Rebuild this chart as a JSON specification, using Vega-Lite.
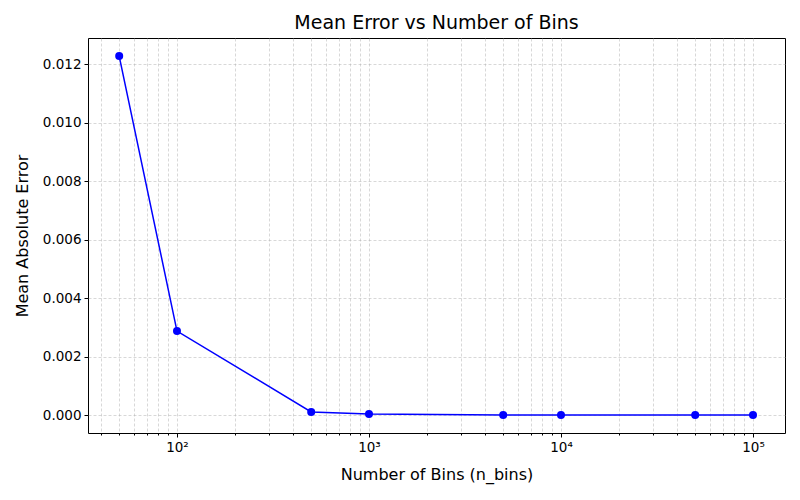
{
  "$schema": "https://vega.github.io/schema/vega-lite/v6.json",
  "width": 697,
  "height": 395,
  "autosize": {"type": "none"},
  "padding": {"left": 88, "top": 38, "right": 15, "bottom": 67},
  "background": "white",
  "config": {
    "font": "DejaVu Sans",
    "view": {"stroke": "black", "strokeWidth": 1},
    "axis": {
      "domain": false,
      "grid": true,
      "gridColor": "#b0b0b0",
      "gridDash": [3, 2],
      "gridWidth": 0.5,
      "tickColor": "black",
      "labelColor": "black",
      "labelFont": "DejaVu Sans",
      "labelFontSize": 13.5,
      "titleFont": "DejaVu Sans",
      "titleFontSize": 16,
      "titleFontWeight": "normal",
      "titleColor": "black",
      "labelPadding": 3
    }
  },
  "title": {
    "text": "Mean Error vs Number of Bins",
    "fontSize": 19,
    "fontWeight": "normal",
    "font": "DejaVu Sans",
    "color": "black",
    "offset": 5
  },
  "data": {
    "values": [
      {"n_bins": 50, "mae": 0.01227},
      {"n_bins": 100, "mae": 0.00287},
      {"n_bins": 500, "mae": 0.000105},
      {"n_bins": 1000, "mae": 0.000034},
      {"n_bins": 5000, "mae": 0.000003},
      {"n_bins": 10000, "mae": 0.000001},
      {"n_bins": 50000, "mae": 0.0000002},
      {"n_bins": 100000, "mae": 0.0000001}
    ]
  },
  "encoding": {
    "x": {
      "field": "n_bins",
      "type": "quantitative",
      "scale": {"type": "log", "domain": [34.4, 146780], "nice": false},
      "axis": {
        "title": "Number of Bins (n_bins)",
        "titlePadding": 13,
        "values": [40, 50, 60, 70, 80, 90, 100, 200, 300, 400, 500, 600, 700, 800, 900, 1000, 2000, 3000, 4000, 5000, 6000, 7000, 8000, 9000, 10000, 20000, 30000, 40000, 50000, 60000, 70000, 80000, 90000, 100000],
        "labelExpr": "datum.value == 100 ? '10²' : datum.value == 1000 ? '10³' : datum.value == 10000 ? '10⁴' : datum.value == 100000 ? '10⁵' : ''",
        "tickSize": {"condition": {"test": "datum.value == 100 || datum.value == 1000 || datum.value == 10000 || datum.value == 100000", "value": 4}, "value": 2},
        "labelFlush": false,
        "labelOverlap": false
      }
    },
    "y": {
      "field": "mae",
      "type": "quantitative",
      "scale": {"domain": [-0.000615, 0.012889], "nice": false, "zero": false},
      "axis": {
        "title": "Mean Absolute Error",
        "titlePadding": 12,
        "values": [0, 0.002, 0.004, 0.006, 0.008, 0.01, 0.012],
        "format": ".3f",
        "tickSize": 4
      }
    }
  },
  "layer": [
    {"mark": {"type": "line", "color": "blue", "strokeWidth": 1.5}},
    {"mark": {"type": "point", "filled": true, "color": "blue", "size": 64, "opacity": 1}}
  ]
}
